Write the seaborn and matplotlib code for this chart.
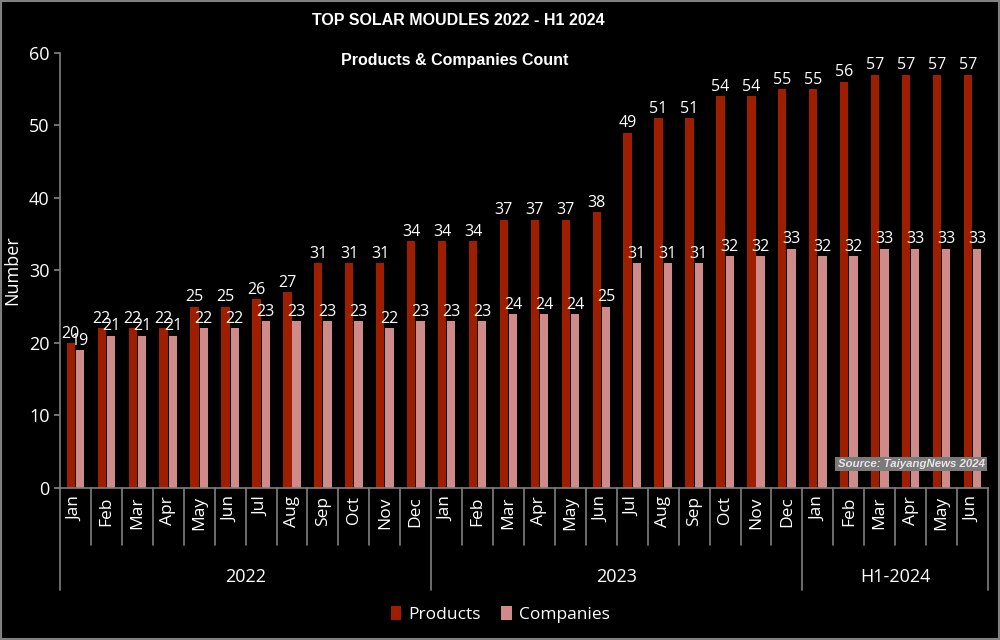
import pandas as pd
import matplotlib.pyplot as plt
import seaborn as sns
from matplotlib.patches import Rectangle
from matplotlib.transforms import blended_transform_factory

sns.set_theme(style="dark")
plt.rcParams['font.family'] = ['Open Sans', 'DejaVu Sans']

# data
months = ["Jan", "Feb", "Mar", "Apr", "May", "Jun", "Jul", "Aug", "Sep", "Oct", "Nov", "Dec",
          "Jan", "Feb", "Mar", "Apr", "May", "Jun", "Jul", "Aug", "Sep", "Oct", "Nov", "Dec",
          "Jan", "Feb", "Mar", "Apr", "May", "Jun"]
groups = ["2022", "2023", "H1-2024"]
group_sizes = [12, 12, 6]
products = [20, 22, 22, 22, 25, 25, 26, 27, 31, 31, 31, 34,
            34, 34, 37, 37, 37, 38, 49, 51, 51, 54, 54, 55,
            55, 56, 57, 57, 57, 57]
companies = [19, 21, 21, 21, 22, 22, 23, 23, 23, 23, 22, 23,
             23, 23, 24, 24, 24, 25, 31, 31, 31, 32, 32, 33,
             32, 32, 33, 33, 33, 33]

df = pd.DataFrame({
    "idx": list(range(len(months))) * 2,
    "value": products + companies,
    "series": ["Products"] * len(products) + ["Companies"] * len(companies),
})

fg = "white"
line_col = "#7f7f7f"

fig = plt.figure(figsize=(10, 6.4), dpi=100, facecolor="black")
ax = fig.add_axes([0.06, 0.2375, 0.928, 0.68])
ax.set_facecolor("black")

sns.barplot(data=df, x="idx", y="value", hue="series", ax=ax,
            palette=["#a01e00", "#cf8b89"], width=0.6, gap=0.1,
            saturation=1, linewidth=0, edgecolor="none", legend=True)

for cont in ax.containers:
    ax.bar_label(cont, color=fg, fontsize=11.5, padding=1)

ax.set_xlim(-0.5, len(months) - 0.5)
ax.set_ylim(0, 60)
ax.set_yticks(range(0, 61, 10))
ax.tick_params(axis="y", colors=fg, labelsize=13, length=4, direction="out", left=True, color=line_col)
ax.set_xticks(range(len(months)))
ax.set_xticklabels(months, rotation=90, color=fg, fontsize=12.5)
ax.tick_params(axis="x", length=0, pad=6)
ax.set_xlabel("")
ax.set_ylabel("Number", color=fg, fontsize=13)
ax.yaxis.set_label_coords(-0.042, 0.5)
ax.grid(False)
for side in ["top", "right"]:
    ax.spines[side].set_visible(False)
for side in ["left", "bottom"]:
    ax.spines[side].set_color(line_col)
    ax.spines[side].set_linewidth(1.2)

# category separators and group labels
trans = blended_transform_factory(ax.transData, ax.transAxes)
edges = [0]
for s in group_sizes:
    edges.append(edges[-1] + s)
for i in range(len(months) + 1):
    depth = -0.234 if i in edges else -0.131
    ax.plot([i - 0.5, i - 0.5], [0, depth], color=line_col, lw=1.2,
            transform=trans, clip_on=False)
for g, a, b in zip(groups, edges[:-1], edges[1:]):
    ax.text((a + b - 1) / 2, -0.205, g, transform=trans, ha="center", va="center",
            color=fg, fontsize=13)

# legend
handles, labels = ax.get_legend_handles_labels()
for h in handles:
    h.set_edgecolor("none")
ax.legend(handles, labels, loc="center", bbox_to_anchor=(0.5, 0.04),
          bbox_transform=fig.transFigure, ncol=2, frameon=False,
          labelcolor=fg, fontsize=12.5, handlelength=0.6, handleheight=0.9,
          columnspacing=1.2, handletextpad=0.4)

# titles
fig.text(0.458, 0.968, "TOP SOLAR MOUDLES 2022 - H1 2024", ha="center", va="center",
         color=fg, fontsize=11.5, fontweight="bold", family=["Liberation Sans", "DejaVu Sans"])
fig.text(0.455, 0.906, "Products & Companies Count", ha="center", va="center",
         color=fg, fontsize=11.5, fontweight="bold", family=["Liberation Sans", "DejaVu Sans"])

# source box
fig.text(0.911, 0.275, "Source: TaiyangNews 2024", ha="center", va="center",
         color="#e6e6e6", fontsize=8.2, fontweight="bold", style="italic",
         family=["Liberation Sans", "DejaVu Sans"],
         bbox=dict(boxstyle="square,pad=0.2", facecolor="#7a7a7a", edgecolor="none"))

# figure border
fig.patches.append(Rectangle((0.001, 0.001), 0.998, 0.997, transform=fig.transFigure,
                             fill=False, edgecolor="#808080", lw=1.5))

fig.savefig("out.png", dpi=100, facecolor="black")
